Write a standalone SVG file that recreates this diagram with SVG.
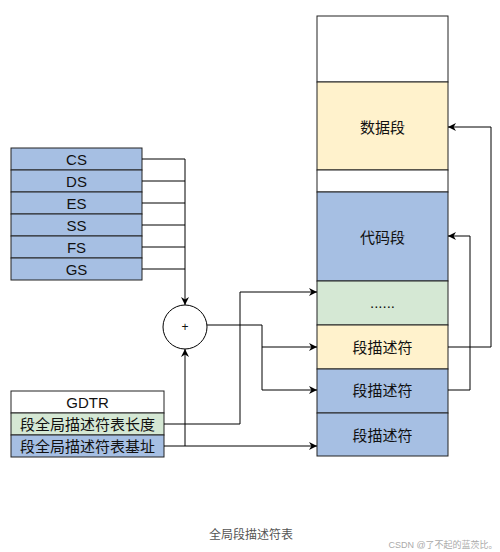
<svg xmlns="http://www.w3.org/2000/svg" width="500" height="552" viewBox="0 0 500 552">
<defs>
<marker id="arr" viewBox="0 0 10 10" refX="10" refY="5" markerWidth="8" markerHeight="8" markerUnits="userSpaceOnUse" orient="auto">
<path d="M0,0 L10,5 L0,10 L3,5 Z" fill="#000"/>
</marker>
</defs>
<style>
.b{stroke:#222;stroke-width:1}
.blue{fill:#a6bfe3}
.yel{fill:#fff2cc}
.grn{fill:#d5e8d4}
.wht{fill:#fff}
text{font-family:"Liberation Sans","Noto Sans CJK SC",sans-serif;font-size:15px;fill:#111;text-anchor:middle;dominant-baseline:central}
.c{fill:none;stroke:#000;stroke-width:1}
</style>
<rect width="500" height="552" fill="#fff"/>
<g id="table">
<g id="empty-top"><rect class="b wht" x="317" y="16" width="131" height="66"/></g>
<g id="data-seg"><rect class="b yel" x="317" y="82" width="131" height="88"/><text x="382.5" y="127">数据段</text></g>
<g id="empty-mid"><rect class="b wht" x="317" y="170" width="131" height="22"/></g>
<g id="code-seg"><rect class="b blue" x="317" y="192" width="131" height="89"/><text x="382.5" y="237">代码段</text></g>
<g id="dots"><rect class="b grn" x="317" y="281" width="131" height="44"/><text x="382.5" y="302">......</text></g>
<g id="desc1"><rect class="b yel" x="317" y="325" width="131" height="44"/><text x="382.5" y="347">段描述符</text></g>
<g id="desc2"><rect class="b blue" x="317" y="369" width="131" height="44"/><text x="382.5" y="390">段描述符</text></g>
<g id="desc3"><rect class="b blue" x="317" y="413" width="131" height="43"/><text x="382.5" y="435">段描述符</text></g>
</g>
<g id="registers">
<g id="cs"><rect class="b blue" x="11" y="148" width="131" height="22"/><text x="76.5" y="159">CS</text></g>
<g id="ds"><rect class="b blue" x="11" y="170" width="131" height="22"/><text x="76.5" y="181">DS</text></g>
<g id="es"><rect class="b blue" x="11" y="192" width="131" height="22"/><text x="76.5" y="203">ES</text></g>
<g id="ss"><rect class="b blue" x="11" y="214" width="131" height="22"/><text x="76.5" y="225">SS</text></g>
<g id="fs"><rect class="b blue" x="11" y="236" width="131" height="22"/><text x="76.5" y="247">FS</text></g>
<g id="gs"><rect class="b blue" x="11" y="258" width="131" height="22"/><text x="76.5" y="269">GS</text></g>
</g>
<g id="gdtr">
<rect class="b wht" x="11" y="391" width="153" height="22"/><text x="87.5" y="402">GDTR</text>
<rect class="b grn" x="11" y="413" width="153" height="22"/><text x="87.5" y="424">段全局描述符表长度</text>
<rect class="b blue" x="11" y="435" width="153" height="22"/><text x="87.5" y="446">段全局描述符表基址</text>
</g>
<g id="adder">
<circle cx="185" cy="327" r="22" fill="#fff" stroke="#000" stroke-width="1"/>
<text x="185" y="327" style="font-size:12px">+</text>
</g>
<g id="connectors">
<path class="c" d="M142,159 H185 M142,181 H185 M142,203 H185 M142,225 H185 M142,247 H185 M142,269 H185"/>
<path class="c" d="M185,159 V305" marker-end="url(#arr)"/>
<path class="c" d="M185,446 V349" marker-end="url(#arr)"/>
<path class="c" d="M164,446 H317" marker-end="url(#arr)"/>
<path class="c" d="M164,424 H240 V292 H317" marker-end="url(#arr)"/>
<path class="c" d="M207,325 H262 V347 H317" marker-end="url(#arr)"/>
<path class="c" d="M262,347 V390 H317" marker-end="url(#arr)"/>
<path class="c" d="M448,347 H491 V127 H448" marker-end="url(#arr)"/>
<path class="c" d="M448,390 H470 V236 H448" marker-end="url(#arr)"/>
</g>
<text x="251" y="535" style="font-size:12px;fill:#555">全局段描述符表</text>
<text x="443" y="545" style="font-size:9px;fill:#aaa">CSDN @了不起的蓝茨比。</text>
</svg>
